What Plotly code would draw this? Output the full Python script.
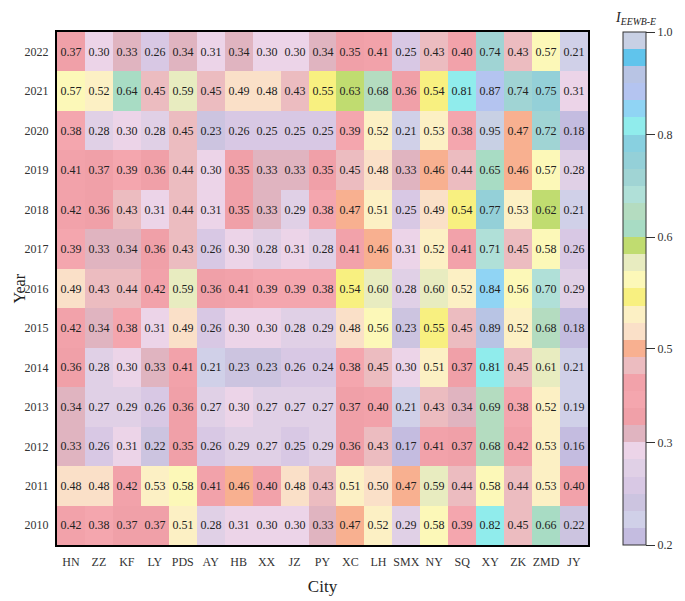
import plotly.graph_objects as go

# ---- data ----
cities = ["HN", "ZZ", "KF", "LY", "PDS", "AY", "HB", "XX", "JZ", "PY",
          "XC", "LH", "SMX", "NY", "SQ", "XY", "ZK", "ZMD", "JY"]
years = [str(y) for y in range(2010, 2023)]

v2010 = [0.42, 0.38, 0.37, 0.37, 0.51, 0.28, 0.31, 0.30, 0.30, 0.33, 0.47, 0.52, 0.29, 0.58, 0.39, 0.82, 0.45, 0.66, 0.22]
v2011 = [0.48, 0.48, 0.42, 0.53, 0.58, 0.41, 0.46, 0.40, 0.48, 0.43, 0.51, 0.50, 0.47, 0.59, 0.44, 0.58, 0.44, 0.53, 0.40]
v2012 = [0.33, 0.26, 0.31, 0.22, 0.35, 0.26, 0.29, 0.27, 0.25, 0.29, 0.36, 0.43, 0.17, 0.41, 0.37, 0.68, 0.42, 0.53, 0.16]
v2013 = [0.34, 0.27, 0.29, 0.26, 0.36, 0.27, 0.30, 0.27, 0.27, 0.27, 0.37, 0.40, 0.21, 0.43, 0.34, 0.69, 0.38, 0.52, 0.19]
v2014 = [0.36, 0.28, 0.30, 0.33, 0.41, 0.21, 0.23, 0.23, 0.26, 0.24, 0.38, 0.45, 0.30, 0.51, 0.37, 0.81, 0.45, 0.61, 0.21]
v2015 = [0.42, 0.34, 0.38, 0.31, 0.49, 0.26, 0.30, 0.30, 0.28, 0.29, 0.48, 0.56, 0.23, 0.55, 0.45, 0.89, 0.52, 0.68, 0.18]
v2016 = [0.49, 0.43, 0.44, 0.42, 0.59, 0.36, 0.41, 0.39, 0.39, 0.38, 0.54, 0.60, 0.28, 0.60, 0.52, 0.84, 0.56, 0.70, 0.29]
v2017 = [0.39, 0.33, 0.34, 0.36, 0.43, 0.26, 0.30, 0.28, 0.31, 0.28, 0.41, 0.46, 0.31, 0.52, 0.41, 0.71, 0.45, 0.58, 0.26]
v2018 = [0.42, 0.36, 0.43, 0.31, 0.44, 0.31, 0.35, 0.33, 0.29, 0.38, 0.47, 0.51, 0.25, 0.49, 0.54, 0.77, 0.53, 0.62, 0.21]
v2019 = [0.41, 0.37, 0.39, 0.36, 0.44, 0.30, 0.35, 0.33, 0.33, 0.35, 0.45, 0.48, 0.33, 0.46, 0.44, 0.65, 0.46, 0.57, 0.28]
v2020 = [0.38, 0.28, 0.30, 0.28, 0.45, 0.23, 0.26, 0.25, 0.25, 0.25, 0.39, 0.52, 0.21, 0.53, 0.38, 0.95, 0.47, 0.72, 0.18]
v2021 = [0.57, 0.52, 0.64, 0.45, 0.59, 0.45, 0.49, 0.48, 0.43, 0.55, 0.63, 0.68, 0.36, 0.54, 0.81, 0.87, 0.74, 0.75, 0.31]
v2022 = [0.37, 0.30, 0.33, 0.26, 0.34, 0.31, 0.34, 0.30, 0.30, 0.34, 0.35, 0.41, 0.25, 0.43, 0.40, 0.74, 0.43, 0.57, 0.21]

z = [v2010, v2011, v2012, v2013, v2014, v2015, v2016,
     v2017, v2018, v2019, v2020, v2021, v2022]

# 30 level colours, bottom (low) to top (high)
band_colors = [
    "#c4bce0", "#d0d0e8", "#ccc4e0", "#d8c8e4", "#e0d0e6", "#ecd4e8",
    "#e0b4c0", "#f0a0a8", "#f4a6ae", "#f2a2aa", "#ecbcc0", "#f8b090",
    "#fae0c8", "#fcf0c4", "#f8f080", "#fcf8b8", "#e8ecc0", "#c0dc70",
    "#a8dcc4", "#b4dcc0", "#b0e0d8", "#a0d4d4", "#94d0d8", "#88d0e0",
    "#90ecec", "#90d4f4", "#b4c4f0", "#b8c4e4", "#60c4ec", "#c8d0e4",
]
zmin, zmax = 0.16, 0.96
# levels where the colour bar carries a label (in units of levels)
label_levels = [0, 6, 11.5, 18, 24, 30]

# ---- discrete colorscale ----
n = len(band_colors)
colorscale = []
for i, c in enumerate(band_colors):
    colorscale.append([i / n, c])
    colorscale.append([(i + 1) / n, c])

step = (zmax - zmin) / n
tick_vals = [zmin + k * step for k in label_levels]

serif = "Liberation Serif, Times New Roman, serif"

fig = go.Figure()
fig.add_trace(
    go.Heatmap(
        x=cities,
        y=years,
        z=z,
        zmin=zmin,
        zmax=zmax,
        colorscale=colorscale,
        texttemplate="%{z:.2f}",
        textfont=dict(family=serif, size=12, color="#222222"),
        colorbar=dict(
            x=1.065,
            xanchor="left",
            xpad=0,
            y=0.5,
            yanchor="middle",
            ypad=0,
            len=513,
            lenmode="pixels",
            thickness=23,
            outlinecolor="#333333",
            outlinewidth=1,
            ticks="outside",
            ticklen=9,
            tickcolor="#333333",
            tickvals=tick_vals,
            tickformat=".1f",
            tickfont=dict(family=serif, size=12, color="#333333"),
        ),
    )
)

# colour bar title
fig.add_annotation(
    text="<i>I</i><sub><i>EEWB-E</i></sub>",
    xref="paper", yref="paper",
    x=1.047, y=1.0,
    xanchor="left", yanchor="top",
    yshift=24,
    showarrow=False,
    font=dict(family=serif, size=14, color="#222222"),
)

# y title as a rotated annotation so it can sit close to the page edge
fig.add_annotation(
    text="Year",
    xref="paper", yref="paper",
    x=0, y=0.5,
    xanchor="center", yanchor="middle",
    xshift=-38,
    textangle=-90,
    borderpad=0,
    showarrow=False,
    font=dict(family=serif, size=16, color="#222222"),
)

# invisible tick marks keep the labels a little away from the frame
fig.update_xaxes(
    title=dict(text="City", font=dict(family=serif, size=17, color="#222222"), standoff=12),
    tickfont=dict(family=serif, size=12, color="#333333"),
    ticks="outside", ticklen=5, tickcolor="rgba(0,0,0,0)",
    showline=True, linecolor="black", linewidth=2, mirror=True,
    showgrid=False, automargin=False,
)
fig.update_yaxes(
    tickfont=dict(family=serif, size=12, color="#333333"),
    ticks="outside", ticklen=4, tickcolor="rgba(0,0,0,0)",
    showline=True, linecolor="black", linewidth=2, mirror=True,
    showgrid=False, automargin=False,
)

# page adds an 8 px body margin, so the figure is 8 px smaller than the window
fig.update_layout(
    width=677,
    height=593,
    margin=dict(l=49, r=92, t=24, b=56),
    paper_bgcolor="white",
    plot_bgcolor="white",
)

fig.write_html("out.html")
